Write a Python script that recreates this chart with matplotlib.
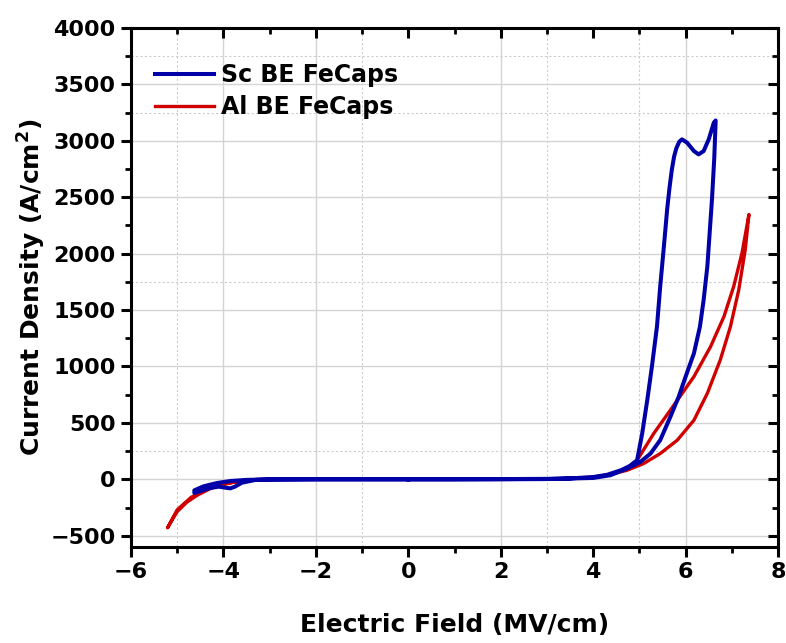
import matplotlib
matplotlib.use("Agg")
import matplotlib.pyplot as plt
from matplotlib.ticker import MultipleLocator

# Sc BE FeCaps loop (MV/cm, A/cm^2)
sc_x = [0, 1, 2, 3, 3.5, 4.0, 4.3, 4.6, 4.8, 4.95, 5.06, 5.17, 5.27, 5.38, 5.45,
        5.53, 5.60, 5.65, 5.70, 5.75, 5.80, 5.86, 5.92, 6.03, 6.18, 6.28, 6.39, 6.50,
        6.61, 6.65, 6.62, 6.57, 6.52, 6.47, 6.39, 6.31, 6.18, 6.00, 5.85, 5.67, 5.45,
        5.24, 5.02, 4.73, 4.37, 4.0, 3, 2, 1, 0, -1, -2, -3, -3.3, -3.6, -3.75, -3.85,
        -3.95, -4.1, -4.3, -4.5, -4.63, -4.63, -4.43, -4.14, -3.85, -3.49, -3, -2, 0]
sc_y = [0, 0, 2, 4, 8, 20, 40, 80, 120, 169, 406, 702, 998, 1354, 1709,
        2065, 2391, 2580, 2740, 2860, 2935, 2990, 3013, 2984, 2909, 2880, 2909, 3013,
        3161, 3180, 2850, 2480, 2184, 1887, 1591, 1354, 1117, 910, 732, 554, 347,
        228, 154, 95, 36, 12, 2, 0, 0, 0, 0, 0, -2, -5, -30, -65, -80,
        -75, -65, -78, -105, -121, -98, -62, -33, -15, -5, -1, 0, 0]

# Al BE FeCaps loop
al_x = [0, 2, 3, 3.5, 4.0, 4.4, 4.73, 5.09, 5.45, 5.82, 6.18, 6.47, 6.75, 6.97,
        7.15, 7.29, 7.37, 7.22, 7.04, 6.83, 6.54, 6.18, 5.67, 5.31, 4.95, 4.7, 4.4,
        4.0, 3, 0, -2, -3.13, -3.56, -3.85, -4.07, -4.29, -4.57, -4.79, -5.01, -5.21,
        -5.0, -4.7, -4.4, -4.1, -3.8, -3.4, -3, 0]
al_y = [0, 0, 3, 8, 20, 45, 80, 139, 228, 347, 524, 762, 1058, 1354,
        1680, 2035, 2347, 2006, 1709, 1443, 1176, 910, 613, 406, 169, 90, 45,
        15, 2, 0, 0, 0, -9, -30, -47, -83, -142, -202, -290, -430,
        -270, -160, -95, -55, -28, -8, -1, 0]

plt.rcParams['font.family'] = ['DejaVu Sans']
plt.rcParams['font.weight'] = 'bold'

fig = plt.figure(figsize=(7.86, 6.43), dpi=100)
ax = fig.add_axes([0.1667, 0.1493, 0.8232, 0.8072])

# grid as it shows in the picture
for v in [-4, -2, 2, 6]:
    ax.axvline(v, color='#d4d4d4', lw=1.0, zorder=0)
for v in [-5, -1, 3, 5]:
    ax.axvline(v, color='#cccccc', lw=0.8, ls=(0, (2, 2)), zorder=0)
for v in range(-500, 4000, 500):
    ax.axhline(v, color='#d4d4d4', lw=1.0, zorder=0)
for v in [250, 1750, 3250, 3750]:
    ax.axhline(v, color='#cccccc', lw=0.8, ls=(0, (2, 2)), zorder=0)

ax.plot(al_x, al_y, color='#d00000', lw=2.4, label='Al BE FeCaps', zorder=2,
        solid_joinstyle='round')
ax.plot(sc_x, sc_y, color='#0000a8', lw=2.9, label='Sc BE FeCaps', zorder=3,
        solid_joinstyle='round')

ax.set_xlim(-6, 8)
ax.set_ylim(-600, 4000)
ax.xaxis.set_major_locator(MultipleLocator(2))
ax.xaxis.set_minor_locator(MultipleLocator(1))
ax.yaxis.set_major_locator(MultipleLocator(500))
ax.yaxis.set_minor_locator(MultipleLocator(250))
ax.tick_params(which='major', direction='out', length=7, width=2.2, labelsize=16, pad=4)
ax.tick_params(which='minor', direction='out', length=4, width=2.0)
for s in ax.spines.values():
    s.set_linewidth(2.2)

# inward ticks on top and right
top = ax.secondary_xaxis('top')
top.xaxis.set_major_locator(MultipleLocator(2))
top.xaxis.set_minor_locator(MultipleLocator(1))
top.tick_params(which='major', direction='in', length=7, width=2.2, labeltop=False)
top.tick_params(which='minor', direction='in', length=4, width=2.0)
right = ax.secondary_yaxis('right')
right.yaxis.set_major_locator(MultipleLocator(500))
right.yaxis.set_minor_locator(MultipleLocator(250))
right.tick_params(which='major', direction='in', length=7, width=2.2, labelright=False)
right.tick_params(which='minor', direction='in', length=4, width=2.0)

ax.set_xlabel('Electric Field (MV/cm)', fontsize=18, fontweight='bold', labelpad=22)
ax.set_ylabel('Current Density (A/cm$^\\mathbf{2}$)', fontsize=18, fontweight='bold', labelpad=2)

h, l = ax.get_legend_handles_labels()
ax.legend(h[::-1], l[::-1], loc='center left', frameon=False, fontsize=17,
          handlelength=2.5, handletextpad=0.3, labelspacing=0.35,
          borderpad=0, borderaxespad=0, bbox_to_anchor=(0.037, 0.878))

fig.savefig('out.png', dpi=100)
